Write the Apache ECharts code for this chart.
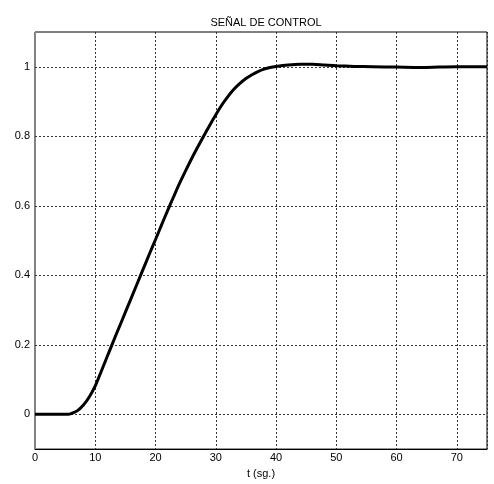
<!DOCTYPE html>
<html>
<head>
<meta charset="utf-8">
<script src="https://cdn.jsdelivr.net/npm/echarts@6/dist/echarts.min.js"></script>
<style>
html,body{margin:0;padding:0;background:#fff;}
#chart{width:494px;height:484px;}
</style>
</head>
<body>
<div id="chart"></div>
<script>
const titleText = 'SEÑAL DE CONTROL';
const xName = 't (sg.)';
const tValues = [0, 5, 5.5, 6, 7, 8, 9, 10, 11, 12, 13, 14, 15, 16, 17, 18, 19, 20, 21, 22, 23, 24, 25, 26, 27, 28, 29, 30, 31, 32, 33, 34, 35, 36, 37, 38, 39, 40, 42, 44, 46, 48, 50, 53, 56, 60, 64, 67, 70, 75];
const uValues = [0, 0, 0, 0.002, 0.01, 0.026, 0.05, 0.082, 0.124, 0.167, 0.21, 0.252, 0.294, 0.336, 0.378, 0.42, 0.462, 0.503, 0.545, 0.586, 0.626, 0.665, 0.701, 0.736, 0.769, 0.801, 0.832, 0.862, 0.89, 0.914, 0.935, 0.952, 0.966, 0.977, 0.986, 0.993, 0.998, 1.001, 1.005, 1.007, 1.007, 1.005, 1.003, 1.001, 1.0, 0.999, 0.998, 0.999, 1.0, 1.0];
const yGridValues = [0, 0.2, 0.4, 0.6, 0.8, 1];

const font = 'Liberation Sans, Arial, sans-serif';
const chart = echarts.init(document.getElementById('chart'), null, {renderer: 'canvas'});
const gridStyle = {color: '#333', width: 1, type: [2, 2]};

chart.setOption({
  animation: false,
  backgroundColor: '#fff',
  title: {
    text: titleText,
    left: 261,
    textAlign: 'center',
    top: 12,
    textStyle: {fontFamily: font, fontSize: 11, fontWeight: 'normal', color: '#000'}
  },
  grid: {left: 35, right: 7, top: 32, bottom: 29, show: true, borderColor: '#000', borderWidth: 1, containLabel: false},
  xAxis: {
    type: 'value', min: 0, max: 75, interval: 10,
    name: xName, nameLocation: 'middle', nameGap: 18,
    nameTextStyle: {fontFamily: font, fontSize: 11, color: '#000'},
    axisLine: {show: true, onZero: false, lineStyle: {color: '#000', width: 1}},
    axisTick: {show: false},
    axisLabel: {fontFamily: font, fontSize: 11, color: '#000', margin: 3, showMaxLabel: false},
    splitLine: {show: true, lineStyle: gridStyle}
  },
  yAxis: {
    type: 'value', min: -0.1, max: 1.1, interval: 0.1,
    axisLine: {show: true, onZero: false, lineStyle: {color: '#888', width: 1}},
    axisTick: {show: false},
    axisLabel: {
      fontFamily: font, fontSize: 11, color: '#000', margin: 5,
      formatter: function (v) {
        const k = Math.round(v * 10);
        if (k < 0 || k > 10 || k % 2 !== 0) return '';
        return String(+(k / 10).toFixed(1));
      }
    },
    splitLine: {show: false}
  },
  series: [{
    type: 'line',
    data: tValues.map((t, i) => [t, uValues[i]]),
    showSymbol: false,
    smooth: 0.3,
    lineStyle: {color: '#000', width: 3},
    z: 5,
    markLine: {
      silent: true,
      symbol: ['none', 'none'],
      label: {show: false},
      lineStyle: gridStyle,
      animation: false,
      data: yGridValues.map(v => ({yAxis: v}))
    }
  }]
});
</script>
</body>
</html>
